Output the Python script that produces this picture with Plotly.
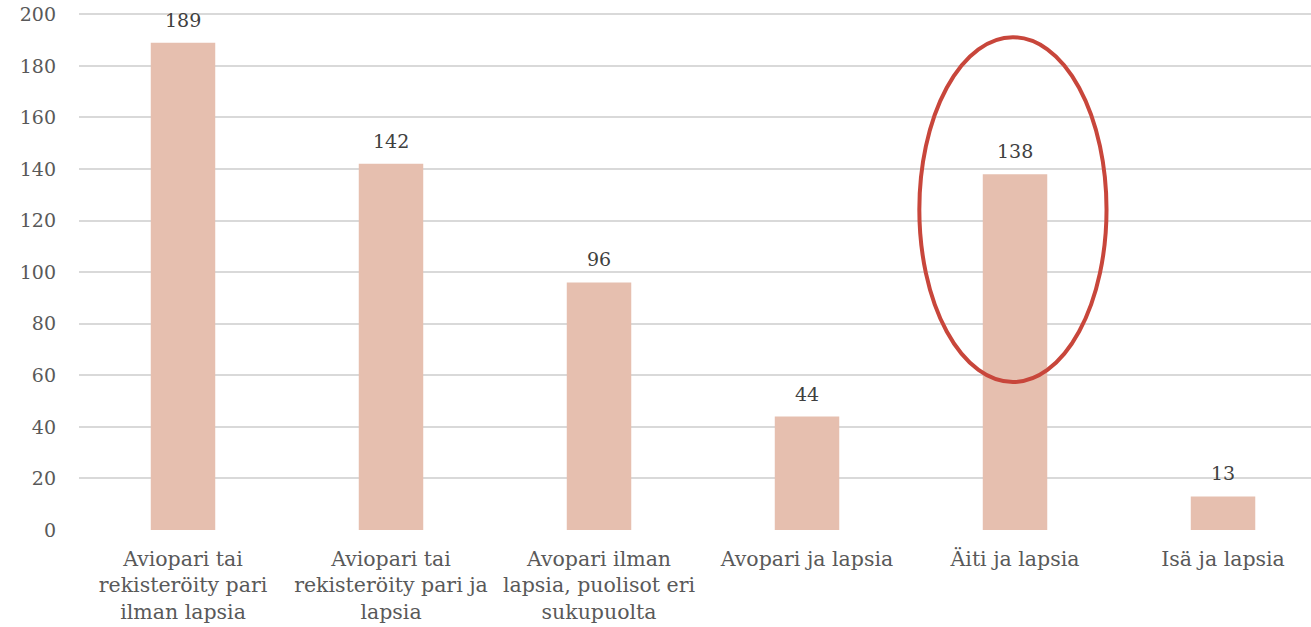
import plotly.graph_objects as go

categories = [
    "Aviopari tai<br>rekisteröity pari<br>ilman lapsia",
    "Aviopari tai<br>rekisteröity pari ja<br>lapsia",
    "Avopari ilman<br>lapsia, puolisot eri<br>sukupuolta",
    "Avopari ja lapsia",
    "Äiti ja lapsia",
    "Isä ja lapsia",
]
values = [189, 142, 96, 44, 138, 13]
y_ticks = [0, 20, 40, 60, 80, 100, 120, 140, 160, 180, 200]

highlight_index = 4
FONT = "DejaVu Serif"
TEXT = "#595959"

xs = list(range(len(categories)))

fig = go.Figure()
fig.add_trace(go.Bar(
    x=xs,
    y=values,
    marker=dict(color="#E6BFAF", line=dict(width=0)),
    hoverinfo="skip",
))

for xi, v in zip(xs, values):
    fig.add_annotation(
        x=xi, y=v, xref="x", yref="y",
        text=str(v), showarrow=False,
        yanchor="bottom", yshift=10,
        font=dict(family=FONT, size=19, color="#404040"),
    )

fig.add_shape(
    type="circle", xref="x", yref="y",
    x0=highlight_index - 0.46, x1=highlight_index + 0.44,
    y0=57.4, y1=191.1,
    line=dict(color="#C8463B", width=4),
)

fig.update_layout(
    width=1311, height=627,
    margin=dict(l=79, r=0, t=13, b=97, autoexpand=False),
    paper_bgcolor="white", plot_bgcolor="white",
    bargap=0.69,
    showlegend=False,
    font=dict(family=FONT, color=TEXT),
    xaxis=dict(
        tickmode="array",
        tickvals=xs,
        ticktext=categories,
        range=[-0.5, 5.423],
        tickfont=dict(family=FONT, size=20.5, color=TEXT),
        showgrid=False, zeroline=False, showline=False,
        ticks="", ticklabelstandoff=14,
        ticklabeloverflow="allow", automargin=False,
    ),
    yaxis=dict(
        range=[0, 200.5],
        tickvals=y_ticks,
        tickfont=dict(family=FONT, size=19, color=TEXT),
        showgrid=True, gridcolor="#D9D9D9", gridwidth=2,
        zeroline=False, showline=False,
        ticks="", ticklabelstandoff=22,
        ticklabeloverflow="allow", automargin=False,
    ),
)

fig.write_html(
    "out.html",
    config={"displayModeBar": False},
    post_script="document.body.style.margin='0';",
)
